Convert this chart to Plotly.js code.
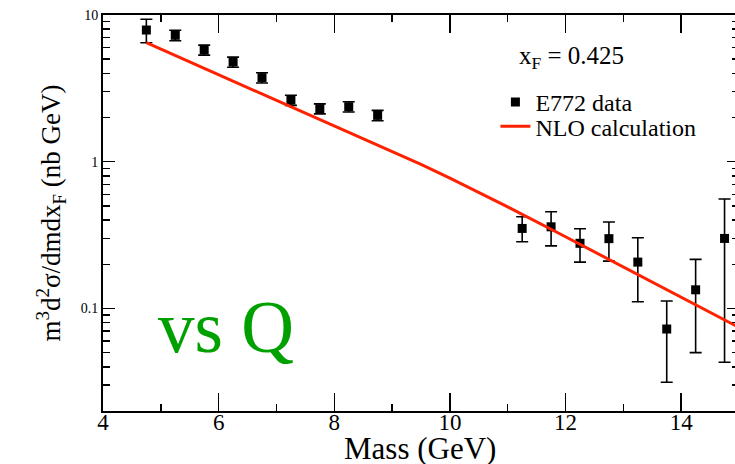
<!DOCTYPE html>
<html>
<head>
<meta charset="utf-8">
<script src="https://cdn.plot.ly/plotly-3.0.1.min.js"></script>
<style>
html,body{margin:0;padding:0;overflow:hidden;background:#fff;}
#chart{width:739px;height:464px;}
</style>
</head>
<body>
<div id="chart"></div>
<script>
// E772 data (x_F = 0.425)
var massData = [4.75, 5.25, 5.75, 6.25, 6.75, 7.25, 7.75, 8.25, 8.75,
                11.25, 11.75, 12.25, 12.75, 13.25, 13.75, 14.25, 14.75];
var sigmaData = [7.9, 7.27, 5.78, 4.78, 3.74, 2.63, 2.30, 2.37, 2.07,
                 0.351, 0.360, 0.278, 0.299, 0.207, 0.0724, 0.134, 0.300];
var errPlus  = [1.45, 0.6, 0.45, 0.38, 0.3, 0.21, 0.18, 0.19, 0.17,
                0.071, 0.096, 0.071, 0.089, 0.096, 0.040, 0.082, 0.257];
var errMinus = [1.43, 0.6, 0.45, 0.38, 0.3, 0.21, 0.18, 0.19, 0.17,
                0.066, 0.093, 0.071, 0.089, 0.096, 0.041, 0.084, 0.257];

// NLO calculation curve
var massNLO  = [4.75, 6, 7, 8, 9, 9.5, 10, 10.5, 11, 12, 13, 14, 14.95];
var sigmaNLO = [6.47, 3.92, 2.62, 1.758, 1.178, 0.959, 0.774, 0.619, 0.492, 0.308, 0.191, 0.119, 0.076];

var xTicks = [4, 6, 8, 10, 12, 14];
var yTicks = [0.1, 1, 10];
var yTickText = ['0.1', '1', '10'];

var serif = '"Liberation Serif", "Times New Roman", serif';

var traces = [
  {
    x: massData, y: sigmaData, type: 'scatter', mode: 'markers',
    name: 'E772 data', legend: 'legend',
    marker: {symbol: 'square', size: 9, color: '#000'},
    error_y: {type: 'data', symmetric: false, array: errPlus, arrayminus: errMinus,
              color: '#000', thickness: 1.6, width: 6}
  },
  {
    x: massNLO, y: sigmaNLO, type: 'scatter', mode: 'lines',
    name: 'NLO calculation', legend: 'legend2',
    line: {color: '#ff2200', width: 3}
  }
];

var legendStyle = function (y) {
  return {
    x: 0.617, y: y, xanchor: 'left', yanchor: 'top',
    bgcolor: 'rgba(0,0,0,0)', borderwidth: 0,
    font: {family: serif, size: 24, color: '#000'},
    itemwidth: 30
  };
};

var layout = {
  width: 739, height: 464,
  margin: {l: 103, r: 0, t: 15, b: 53},
  paper_bgcolor: '#fff', plot_bgcolor: '#fff',
  font: {family: serif, color: '#000'},
  showlegend: true,
  legend: legendStyle(0.836),
  legend2: legendStyle(0.775),
  xaxis: {
    range: [4, 15], showgrid: false, zeroline: false,
    showline: true, linecolor: '#000', linewidth: 2, mirror: 'allticks',
    ticks: 'inside', ticklen: 18, tickwidth: 1.5, tickcolor: '#000',
    tickvals: xTicks, ticktext: xTicks.map(String),
    tickfont: {family: serif, size: 23, color: '#000'},
    ticklabelstandoff: -11,
    minor: {dtick: 1, ticks: 'inside', ticklen: 7, tickwidth: 1.5, tickcolor: '#000', showgrid: false}
  },
  yaxis: {
    type: 'log', range: [Math.log10(0.02), 1], showgrid: false, zeroline: false,
    showline: true, linecolor: '#000', linewidth: 2, mirror: 'allticks',
    ticks: 'inside', ticklen: 12, tickwidth: 1.5, tickcolor: '#000',
    tickvals: yTicks, ticktext: yTickText,
    tickfont: {family: serif, size: 14, color: '#000'},
    minor: {dtick: 'D1', ticks: 'inside', ticklen: 7, tickwidth: 1.5, tickcolor: '#000', showgrid: false},
    title: {text: 'm<sup>3</sup>d<sup>2</sup>σ/dmdx<sub>F</sub> (nb GeV)',
            font: {family: serif, size: 27, color: '#000'}, standoff: 12}
  },
  annotations: [
    {
      text: 'Mass (GeV)', xref: 'paper', yref: 'paper',
      x: 0.498, y: -0.094, showarrow: false, xanchor: 'center', yanchor: 'middle',
      font: {family: serif, size: 31, color: '#000'}
    },
    {
      text: 'x<sub>F</sub> = 0.425', xref: 'x', yref: 'y',
      x: 12.11, y: 0.707, showarrow: false, xanchor: 'center', yanchor: 'middle',
      font: {family: serif, size: 25, color: '#000'}
    },
    {
      text: 'vs Q', xref: 'x', yref: 'y',
      x: 6.13, y: -1.127, showarrow: false, xanchor: 'center', yanchor: 'middle',
      font: {family: serif, size: 73, color: '#00a000'}
    }
  ]
};

Plotly.newPlot('chart', traces, layout, {staticPlot: true, displayModeBar: false});
</script>
</body>
</html>
